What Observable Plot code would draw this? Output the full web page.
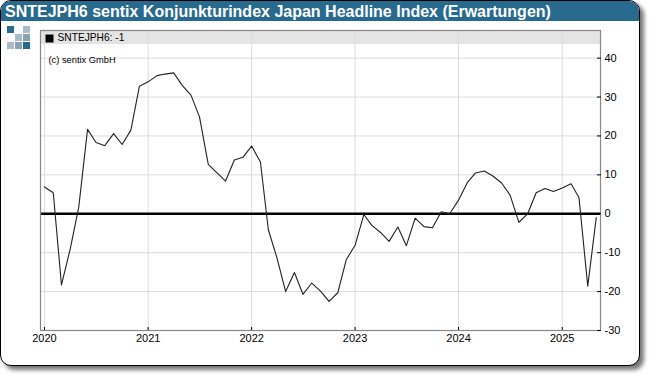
<!DOCTYPE html>
<html>
<head>
<meta charset="utf-8">
<script src="https://cdn.jsdelivr.net/npm/d3@7"></script>
<script src="https://cdn.jsdelivr.net/npm/@observablehq/plot@0.6"></script>
<style>
html,body{margin:0;padding:0;background:#fff;}
#wrap{position:relative;width:650px;height:376px;overflow:hidden;font-family:"Liberation Sans",Arial,sans-serif;}
#card{position:absolute;left:0;top:0;width:638px;height:364px;border:1px solid #000;border-radius:11px;box-shadow:4px 4px 4px #777;background:#fff;overflow:hidden;}
#head{position:absolute;left:0;top:0;right:0;height:20px;background:#286a8e;color:#fff;font-weight:bold;font-size:16px;line-height:21px;padding-left:4px;white-space:nowrap;}
#logo{position:absolute;left:6px;top:25px;display:grid;grid-template-columns:repeat(3,7px);grid-template-rows:repeat(3,7px);gap:1px;}
#logo i{display:block}
#chart{position:absolute;left:0;top:0;}
</style>
</head>
<body>
<div id="wrap">
<div id="card">
<div id="head">SNTEJPH6 sentix Konjunkturindex Japan Headline Index (Erwartungen)</div>
<div id="logo">
<i style="background:#286a8e"></i><i></i><i style="background:#a9bcc8"></i>
<i></i><i style="background:#a9bcc8"></i><i style="background:#8aa3b3"></i>
<i style="background:#a9bcc8"></i><i style="background:#8aa3b3"></i><i style="background:#286a8e"></i>
</div>
</div>
<div id="chart"></div>
</div>
<script>
const startYear = 2020;
const values = [
  6.9, 5.4, -18.3, -9, 1.7, 21.7, 18.3, 17.5, 20.6, 17.8, 21.5, 32.8,
  33.9, 35.5, 35.9, 36.2, 33, 30.5, 24.9, 12.7, 10.5, 8.4, 13.8, 14.5,
  17.4, 13.3, -4.1, -11.5, -20, -15.1, -20.7, -17.8, -19.9, -22.5, -20.3, -11.8,
  -8.1, -0.2, -3, -4.8, -7.1, -3.4, -8.2, -1.1, -3.3, -3.6, 0.5, 0,
  3.5, 8, 10.5, 11, 9.7, 7.9, 4.8, -2.2, 0, 5.4, 6.5, 5.7,
  6.6, 7.7, 4.2, -18.6, -1
];
const yTicks = [-30, -20, -10, 0, 10, 20, 30, 40];
const xTicks = [2020, 2021, 2022, 2023, 2024, 2025];
const legendText = "SNTEJPH6: -1";
const copyright = "(c) sentix GmbH";

const rows = values.map((v, i) => ({date: new Date(Date.UTC(startYear, i, 1)), v}));
const xTickDates = xTicks.map(y => new Date(Date.UTC(y, 0, 1)));
const xMin = new Date(Date.UTC(2019, 11, 18));
const xMax = new Date(Date.UTC(2025, 4, 16));
const yMax = 47.1, bandBottom = 43.5;

const plot = Plot.plot({
  width: 650, height: 376,
  marginLeft: 40, marginRight: 50, marginTop: 30, marginBottom: 46,
  style: {background: "transparent", fontFamily: '"Liberation Sans",Arial,sans-serif', fontSize: "11px", color: "#000"},
  x: {type: "utc", domain: [xMin, xMax], label: null},
  y: {domain: [-30, yMax], label: null},
  marks: [
    Plot.rect([0], {x1: xMin, x2: xMax, y1: bandBottom, y2: yMax, fill: "#e4e4e4"}),
    Plot.gridX(xTickDates, {stroke: "#dcdcdc", strokeOpacity: 1, strokeWidth: 1}),
    Plot.gridY(yTicks.filter(d => d !== -30), {stroke: "#dcdcdc", strokeOpacity: 1, strokeWidth: 1}),
    Plot.ruleY([0], {stroke: "#000", strokeWidth: 2.4}),
    Plot.line(rows, {x: "date", y: "v", stroke: "#222", strokeWidth: 1.1, curve: "linear"}),
    Plot.frame({stroke: "#888", strokeWidth: 1.2}),
    Plot.axisY(yTicks, {anchor: "right", tickSize: -4, tickPadding: 8, tickFormat: d => String(d), label: null, stroke:"#000", fill: "#000", fontSize: 11}),
    Plot.axisX(xTickDates, {anchor: "bottom", tickSize: -3, tickPadding: 7, tickFormat: d => String(d.getUTCFullYear()), label: null, stroke:"#000", fill: "#000", fontSize: 11}),
    Plot.dot([0], {frameAnchor: "top-left", dx: 9, dy: 8, r: 4.5, symbol: "square", fill: "#000"}),
    Plot.text([legendText], {frameAnchor: "top-left", dx: 17, dy: 3, textAnchor: "start", fontSize: 10.2, fill: "#000"}),
    Plot.text([copyright], {frameAnchor: "top-left", dx: 8, dy: 26, textAnchor: "start", fontSize: 9.3, fill: "#000"})
  ]
});
document.getElementById("chart").appendChild(plot);
</script>
</body>
</html>
